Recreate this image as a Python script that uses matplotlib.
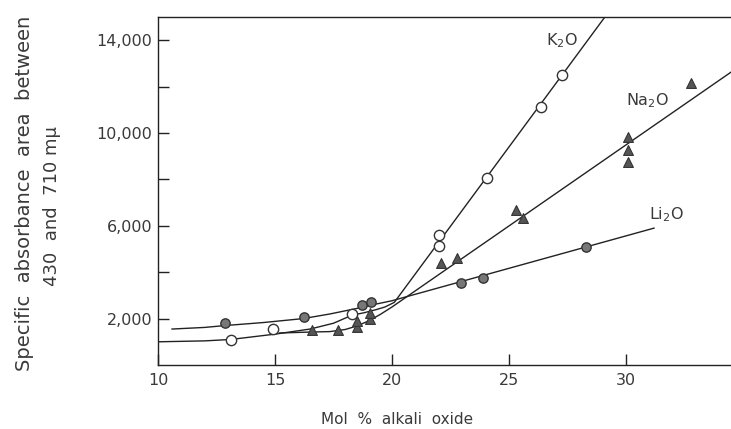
import matplotlib
matplotlib.use("Agg")
import matplotlib.pyplot as plt
from matplotlib.ticker import FixedLocator, FuncFormatter

# ---- data ----
k2o_x = [13.1, 14.9, 18.3, 22.0, 22.0, 24.05, 26.35, 27.25]
k2o_y = [1080, 1540, 2200, 5130, 5600, 8060, 11120, 12500]

na2o_x = [16.6, 17.7, 18.5, 18.5, 19.05, 19.05, 22.1, 22.8, 25.3, 25.6, 30.1, 30.1, 30.1, 32.8]
na2o_y = [1500, 1500, 1650, 1900, 2000, 2250, 4400, 4600, 6680, 6330, 9830, 9270, 8750, 12150]

li2o_x = [12.85, 16.25, 18.7, 19.1, 22.95, 23.9, 28.3]
li2o_y = [1800, 2070, 2590, 2720, 3530, 3750, 5090]

# fitted curves as drawn in the figure
k2o_fit_x = [10, 12, 13.1, 15, 16.5, 17.5, 18.3, 18.8, 19.3, 19.7, 20.1, 29.1]
k2o_fit_y = [1000, 1040, 1100, 1330, 1550, 1800, 2150, 2250, 2380, 2500, 2700, 15000]

na2o_fit_x = [15.2, 16.5, 17.35, 18.0, 18.5, 19.0, 19.5, 20.0, 34.5]
na2o_fit_y = [1380, 1420, 1440, 1530, 1680, 1900, 2180, 2500, 12630]

li2o_fit_x = [10.6, 12.0, 12.86, 14.5, 16.2, 17.35, 18.7, 19.1, 20.0, 31.2]
li2o_fit_y = [1550, 1620, 1700, 1830, 2000, 2200, 2480, 2580, 2770, 5900]

series_labels = ["K$_2$O", "Na$_2$O", "Li$_2$O"]
label_pos_x = [26.6, 30.0, 31.0]
label_pos_y = [14000, 11380, 6500]

yticks_major = [2000, 6000, 10000, 14000]
yticks_all = [2000, 4000, 6000, 8000, 10000, 12000, 14000]
xticks = [10, 15, 20, 25, 30]

# ---- drawing ----
plt.rcParams['font.family'] = ['DejaVu Sans']
tc = '#3a3a3a'
fig = plt.figure(figsize=(7.31, 4.29), dpi=100)
ax = fig.add_axes([158/731, 64/429, 573/731, 348/429])

ax.plot(k2o_fit_x, k2o_fit_y, color='#222222', lw=1.0, zorder=2)
ax.plot(na2o_fit_x, na2o_fit_y, color='#222222', lw=1.0, zorder=2)
ax.plot(li2o_fit_x, li2o_fit_y, color='#222222', lw=1.0, zorder=2)

ax.scatter(k2o_x, k2o_y, s=55, facecolor='white', edgecolor='#333333', lw=1.0, zorder=4)
ax.scatter(na2o_x, na2o_y, s=50, marker='^', facecolor='#555555', edgecolor='#333333', lw=0.8, zorder=3)
ax.scatter(li2o_x, li2o_y, s=45, facecolor='#777777', edgecolor='#333333', lw=1.0, zorder=3)

for lab, lx, ly in zip(series_labels, label_pos_x, label_pos_y):
    ax.text(lx, ly, lab, fontsize=11.5, color=tc, ha='left', va='center')

ax.set_xlim(10, 34.49)
ax.set_ylim(0, 15000)
ax.spines['right'].set_visible(False)
for sp in ['left', 'bottom', 'top']:
    ax.spines[sp].set_color('#222222')
    ax.spines[sp].set_linewidth(1.0)

ax.xaxis.set_major_locator(FixedLocator(xticks))
ax.yaxis.set_major_locator(FixedLocator(yticks_all))
ax.yaxis.set_major_formatter(FuncFormatter(lambda v, p: f"{int(v):,}" if v in yticks_major else ""))
ax.tick_params(axis='both', direction='in', length=8, width=1.0, color='#222222',
               labelsize=11.5, labelcolor=tc)
ax.tick_params(axis='x', pad=6)
ax.tick_params(axis='y', pad=4)

fig.text(397/731, 10/429, "Mol  %  alkali  oxide", fontsize=11, color=tc,
         ha='center', va='center')
fig.text(0.034, 0.55, "Specific  absorbance  area  between", rotation=90,
         fontsize=14, color=tc, ha='center', va='center')
fig.text(0.071, 0.52, "430  and  710 m\u03bc", rotation=90,
         fontsize=13, color=tc, ha='center', va='center')

fig.savefig("out.png", dpi=100)
